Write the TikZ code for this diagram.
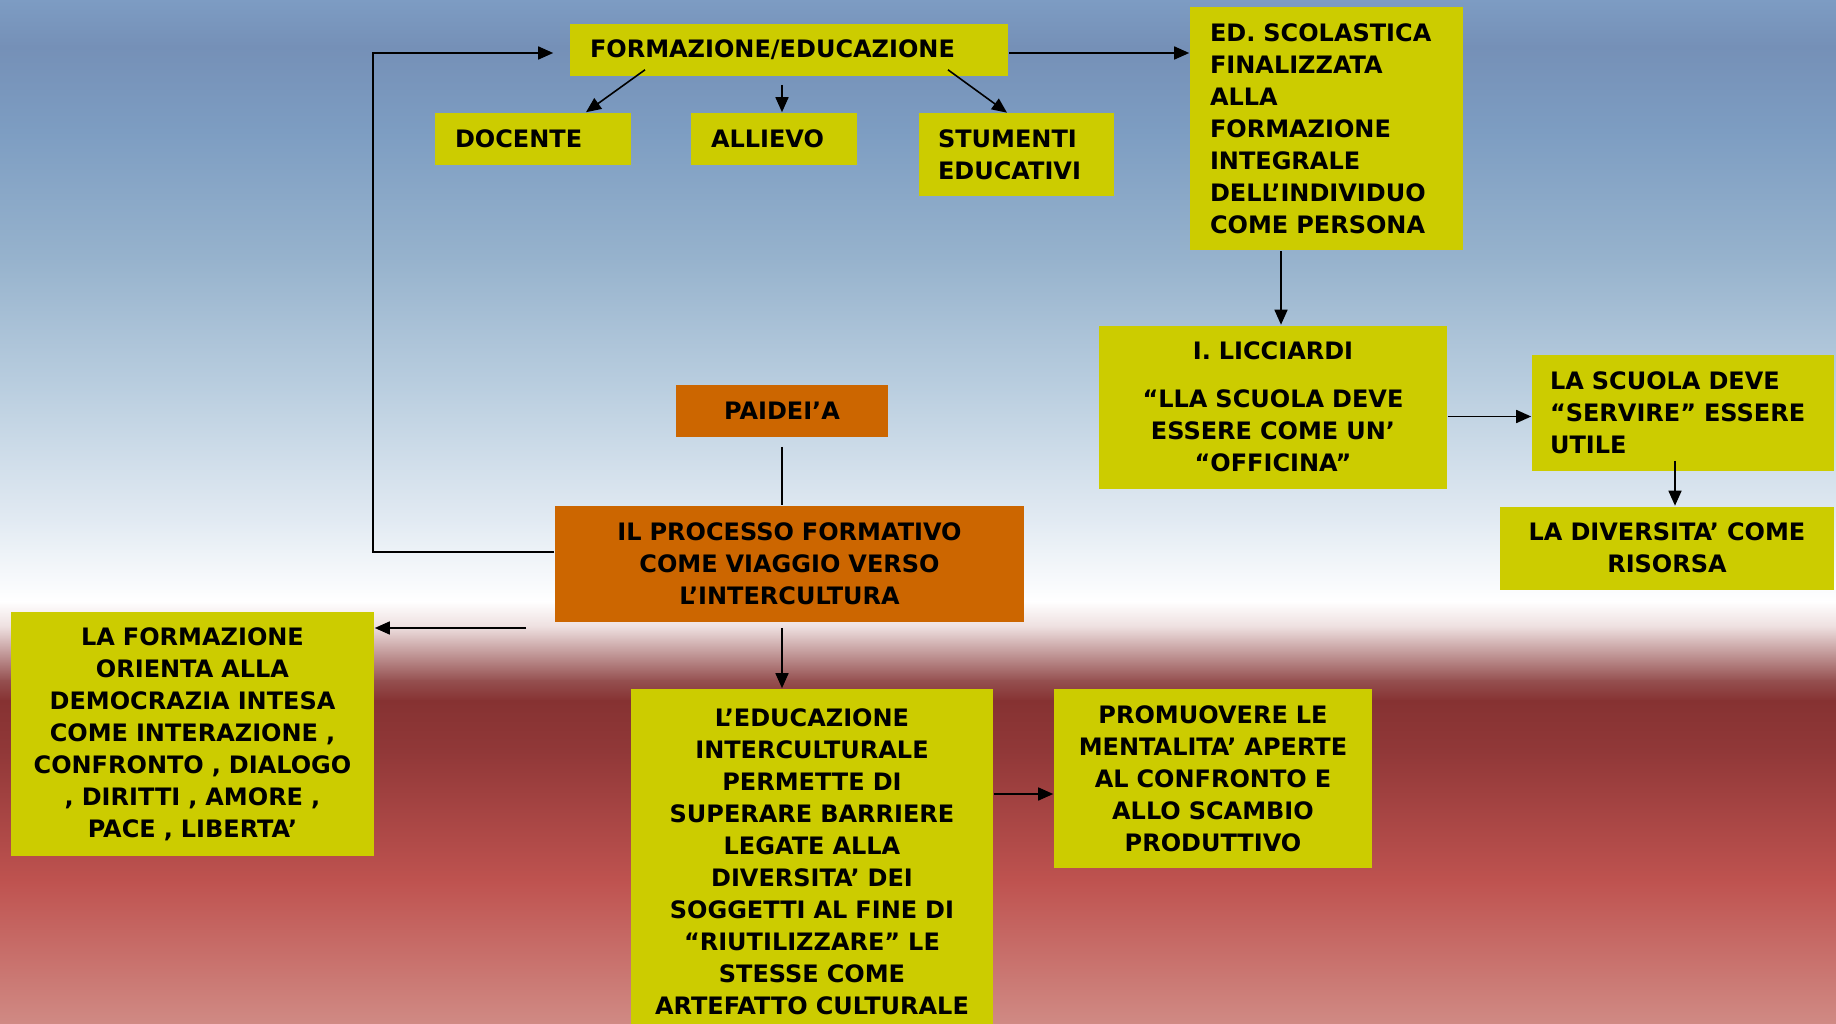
\documentclass[tikz,border=0pt]{standalone}
\usepackage{fontspec}
\setmainfont{DejaVu Sans}
\usetikzlibrary{arrows.meta}

\definecolor{boxyellow}{HTML}{CCCC00}
\definecolor{boxorange}{HTML}{CC6600}
\definecolor{bgA}{HTML}{7D9CC3}
\definecolor{bgB}{HTML}{7590B7}
\definecolor{bgC}{HTML}{7D9DC2}
\definecolor{bgD}{HTML}{97B3CD}
\definecolor{bgE}{HTML}{BBCFE0}
\definecolor{bgF}{HTML}{E3EBF3}
\definecolor{bgG}{HTML}{EDDEDE}
\definecolor{bgH}{HTML}{955050}
\definecolor{bgI}{HTML}{863232}
\definecolor{bgJ}{HTML}{913838}
\definecolor{bgK}{HTML}{BF5350}
\definecolor{bgL}{HTML}{D08A84}

\begin{document}
\begin{tikzpicture}[x=1pt, y=-1pt, line width=1.6pt, >={Triangle[length=15pt,width=13pt]},
    ybox/.style={rectangle, fill=boxyellow, inner sep=0pt, font=\bfseries\fontsize{24}{32}\selectfont},
    obox/.style={ybox, fill=boxorange}]
    \useasboundingbox (0,0) rectangle (1836,1024);

    % background
    \shade[top color=bgA, bottom color=bgB] (0,0) rectangle (1836,47);
    \shade[top color=bgB, bottom color=bgC] (0,46) rectangle (1836,132);
    \shade[top color=bgC, bottom color=bgD] (0,131) rectangle (1836,262);
    \shade[top color=bgD, bottom color=bgE] (0,261) rectangle (1836,393);
    \shade[top color=bgE, bottom color=bgF] (0,392) rectangle (1836,524);
    \shade[top color=bgF, bottom color=white] (0,523) rectangle (1836,602);
    \shade[top color=white, bottom color=bgG] (0,601) rectangle (1836,628);
    \shade[top color=bgG, bottom color=bgH] (0,627) rectangle (1836,681);
    \shade[top color=bgH, bottom color=bgI] (0,680) rectangle (1836,701);
    \shade[top color=bgI, bottom color=bgJ] (0,700) rectangle (1836,752);
    \shade[top color=bgJ, bottom color=bgK] (0,751) rectangle (1836,883);
    \shade[top color=bgK, bottom color=bgL] (0,882) rectangle (1836,1024);

    % formazione / educazione
    \node[ybox, minimum width=438pt, minimum height=52pt, text width=398pt, align=left] (form) at (789,50) {FORMAZIONE/EDUCAZIONE};
    \node[ybox, minimum width=196pt, minimum height=52pt, text width=156pt, align=left] (doc) at (533,139) {DOCENTE};
    \node[ybox, minimum width=166pt, minimum height=52pt, text width=126pt, align=left] (all) at (774,139) {ALLIEVO};
    \node[ybox, minimum width=195pt, minimum height=83pt, text width=157pt, align=left] (stum) at (1016.5,155) {STUMENTI\\EDUCATIVI};

    % educazione scolastica
    \node[ybox, minimum width=273pt, minimum height=243pt, text width=233pt, align=left] (ed) at (1326.5,129)
        {ED. SCOLASTICA\\FINALIZZATA\\ALLA\\FORMAZIONE\\INTEGRALE\\DELL’INDIVIDUO\\COME PERSONA};
    \node[ybox, minimum width=348pt, minimum height=163pt, text width=330pt, align=center] (lic) at (1273,407)
        {I. LICCIARDI\\[16pt]“LLA SCUOLA DEVE\\ESSERE COME UN’\\“OFFICINA”};
    \node[ybox, minimum width=302pt, minimum height=116pt, text width=266pt, align=left] (scu) at (1683,413)
        {LA SCUOLA DEVE\\“SERVIRE” ESSERE\\UTILE};
    \node[ybox, minimum width=334pt, minimum height=83pt, text width=320pt, align=center] (div) at (1667,548)
        {LA DIVERSITA’ COME\\RISORSA};

    % paideia
    \node[obox, minimum width=212pt, minimum height=52pt, text width=200pt, align=center] (pai) at (782,411) {PAIDEI’A};
    \node[obox, minimum width=469pt, minimum height=116pt, text width=450pt, align=center] (proc) at (789.5,564)
        {IL PROCESSO FORMATIVO\\COME VIAGGIO VERSO\\L’INTERCULTURA};

    % lower part
    \node[ybox, minimum width=363pt, minimum height=244pt, text width=350pt, align=center] (lform) at (192.5,734)
        {LA FORMAZIONE\\ORIENTA ALLA\\DEMOCRAZIA INTESA\\COME INTERAZIONE ,\\CONFRONTO , DIALOGO\\, DIRITTI , AMORE ,\\PACE , LIBERTA’};
    \node[ybox, minimum width=362pt, minimum height=346pt, text width=350pt, align=center] (edu) at (812,862)
        {L’EDUCAZIONE\\INTERCULTURALE\\PERMETTE DI\\SUPERARE BARRIERE\\LEGATE ALLA\\DIVERSITA’ DEI\\SOGGETTI AL FINE DI\\“RIUTILIZZARE” LE\\STESSE COME\\ARTEFATTO CULTURALE};
    \node[ybox, minimum width=318pt, minimum height=179pt, text width=310pt, align=center] (prom) at (1213,778.5)
        {PROMUOVERE LE\\MENTALITA’ APERTE\\AL CONFRONTO E\\ALLO SCAMBIO\\PRODUTTIVO};

    % arrows
    \coordinate (loop) at (373,552);
    \coordinate (lf) at (526,628);
    \draw[->] (proc.west |- loop) -- (loop) |- ([xshift=-16pt,yshift=-3pt]form.west);
    \draw[->] ([yshift=-3pt]form.east) -- ([yshift=-3pt]form.east -| ed.west);
    \draw[->] ([xshift=-144pt,yshift=7pt]form.south) -- ([xshift=53pt]doc.north);
    \draw[->] ([xshift=-7pt,yshift=-8pt]form.south) -- ([xshift=8pt]all.north);
    \draw[->] ([xshift=159pt,yshift=7pt]form.south) -- ([xshift=-9.5pt]stum.north);
    \draw[->] ([xshift=8pt]lic.north |- ed.south) -- ([xshift=8pt]lic.north);
    \draw[->] ([yshift=-9.5pt]lic.east) -- ([yshift=-9.5pt]lic.east -| scu.west);
    \draw[->] ([xshift=-8pt,yshift=11pt]scu.south) -- ([xshift=8pt]div.north);
    \draw ([yshift=-9pt]pai.south) -- (proc.north -| pai.south);
    \draw[->] (lf) -- (lf -| lform.east);
    \draw[->] ([yshift=-5pt]proc.south -| pai.south) -- (edu.north -| pai.south);
    \draw[->] ([yshift=68pt]edu.east) -- ([yshift=68pt]edu.east -| prom.west);
\end{tikzpicture}
\end{document}
